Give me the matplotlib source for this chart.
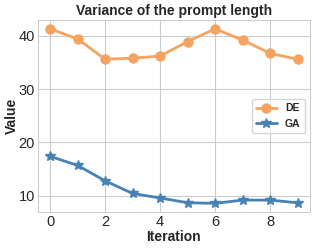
import matplotlib
matplotlib.use("Agg")
import matplotlib.pyplot as plt
import seaborn as sns

iterations = list(range(10))
de_values = [41.3, 39.4, 35.6, 35.8, 36.2, 38.9, 41.3, 39.2, 36.7, 35.6]
ga_values = [17.4, 15.7, 12.8, 10.45, 9.6, 8.7, 8.6, 9.2, 9.2, 8.7]

sns.set_style("whitegrid")
plt.rcParams['font.family'] = ['Liberation Sans', 'DejaVu Sans']

fig, ax = plt.subplots(figsize=(3.15, 2.48), dpi=100)
ax.plot(iterations, de_values, color='#F4A460', marker='o', markersize=6.5, linewidth=2, label='DE')
ax.plot(iterations, ga_values, color='#4682B4', marker='*', markersize=7.5, linewidth=2, label='GA')

ax.set_title('Variance of the prompt length', fontsize=10, fontweight='bold', pad=4, color='#262626')
ax.set_xlabel('Iteration', fontsize=10, fontweight='bold', color='#262626')
ax.set_ylabel('Value', fontsize=10, fontweight='bold', color='#262626')
ax.xaxis.set_label_coords(0.5, -0.092)
ax.yaxis.set_label_coords(-0.07, 0.5)
ax.tick_params(axis='both', labelsize=10.5, length=0, pad=2, labelcolor='#262626')
ax.set_xticks([0, 2, 4, 6, 8])
ax.set_yticks([10, 20, 30, 40])
leg = ax.legend(loc='center right', prop={'weight': 'bold', 'size': 7.5})
for s in ax.spines.values():
    s.set_color('#cccccc')
fig.subplots_adjust(left=0.12, right=0.984, top=0.919, bottom=0.145)
fig.savefig('out.png', dpi=100)
